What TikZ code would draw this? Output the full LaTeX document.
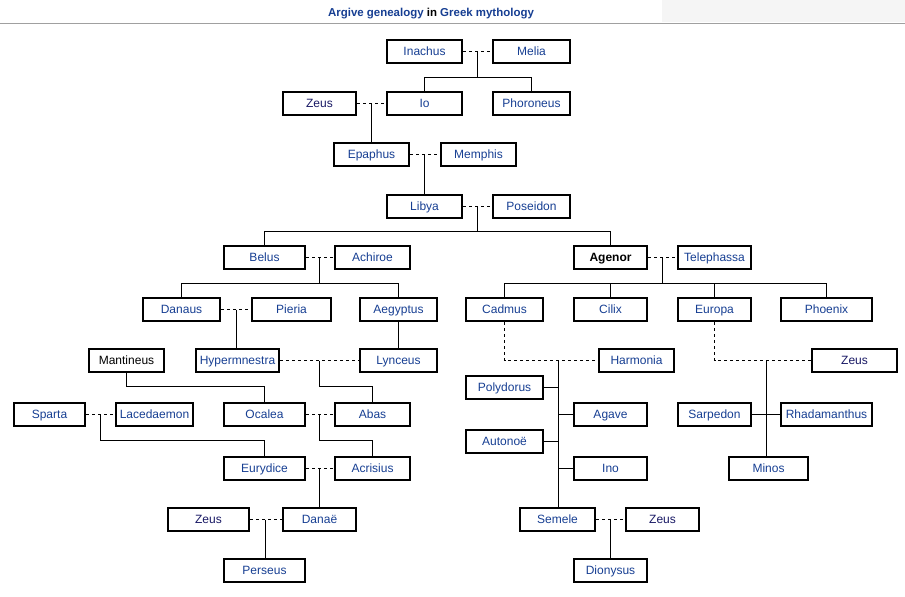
\documentclass[tikz,border=0pt]{standalone}
\usepackage{fontspec}
\setmainfont{Liberation Sans}
\definecolor{linkblue}{RGB}{22,62,146}
\definecolor{visitblue}{RGB}{24,24,100}
\definecolor{headgray}{RGB}{245,245,245}
\definecolor{rulegray}{RGB}{160,160,160}
\begin{document}
\begin{tikzpicture}[x=0.75pt,y=-0.75pt]
		\tikzstyle{person}=[draw,line width=1.5pt,minimum height=17.25pt,inner sep=0pt,text height=7.6pt,text depth=1.2pt,font=\fontsize{9}{10}\selectfont,text=linkblue]
		\tikzstyle{kin}=[line width=0.75pt]
		\tikzstyle{wed}=[line width=0.75pt,dash pattern=on 2.25pt off 2.25pt]

		\useasboundingbox (0,0) rectangle (905,596);
		\fill[headgray] (662,0) rectangle (905,22);
		\draw[rulegray,line width=1.2pt] (0,23.3) -- (905,23.3);
		\node[font=\bfseries\fontsize{8.6}{10}\selectfont] (title) at (431,13.5) {\textcolor{linkblue}{Argive genealogy} in \textcolor{linkblue}{Greek mythology}};

		\foreach \n / \x / \y / \w / \t in {inachus/424.5/51.5/77/Inachus, melia/531.5/51.5/79/Melia, io/424.5/103.5/77/Io, phoroneus/531.5/103.5/79/Phoroneus, epaphus/371.5/154.5/77/Epaphus, memphis/478.5/154.5/77/Memphis, libya/424.5/206.5/77/Libya, poseidon/531.5/206.5/79/Poseidon, belus/264.5/257.5/83/Belus, achiroe/372.5/257.5/77/Achiroe, telephassa/714.5/257.5/75/Telephassa, danaus/181.5/309.5/79/Danaus, pieria/291.5/309.5/81/Pieria, aegyptus/398.5/309.5/79/Aegyptus, cadmus/504.5/309.5/79/Cadmus, cilix/610.5/309.5/75/Cilix, europa/714.5/309.5/75/Europa, phoenix/826.5/309.5/93/Phoenix, hypermnestra/237.5/360.5/85/Hypermnestra, lynceus/398.5/360.5/79/Lynceus, harmonia/636.5/360.5/77/Harmonia, polydorus/504.5/387.5/79/Polydorus, sparta/49.5/414.5/73/Sparta, lacedaemon/154.5/414.5/79/Lacedaemon, ocalea/264.5/414.5/83/Ocalea, abas/372.5/414.5/77/Abas, agave/610.5/414.5/75/Agave, sarpedon/714.5/414.5/75/Sarpedon, rhadamanthus/826.5/414.5/93/Rhadamanthus, autonoe/504.5/441.5/79/Autonoë, eurydice/264.5/468.5/83/Eurydice, acrisius/372.5/468.5/77/Acrisius, ino/610.5/468.5/75/Ino, minos/768.5/468.5/81/Minos, danae/319.5/519.5/75/Danaë, semele/557.5/519.5/77/Semele, perseus/264.5/570.5/83/Perseus, dionysus/610.5/570.5/75/Dionysus} { \node[person,minimum width=\w*0.75pt-1.5pt] (\n) at (\x,\y) {\t};}

		\foreach \n / \x / \y / \w in {zeusa/319.5/103.5/75, zeusb/854.5/360.5/87, zeusc/208.5/519.5/83, zeusd/662.5/519.5/75} { \node[person,text=visitblue,minimum width=\w*0.75pt-1.5pt] (\n) at (\x,\y) {Zeus};}

		\node[person,text=black,minimum width=77*0.75pt-1.5pt] (mantineus) at (126.5,360.5) {Mantineus};
		\node[person,text=black,font=\bfseries\fontsize{9}{10}\selectfont,minimum width=75*0.75pt-1.5pt] (agenor) at (610.5,257.5) {Agenor};

		% couples, with the x where their children hang
		\foreach \a / \b / \u / \ux in {inachus/melia/u1/477.5, zeusa/io/u2/371.5, epaphus/memphis/u3/424.5, libya/poseidon/u4/477.5, belus/achiroe/u5/319.5, agenor/telephassa/u6/662.5, danaus/pieria/u7/236.5, hypermnestra/lynceus/u8/319.5, sparta/lacedaemon/u9/100.5, ocalea/abas/u10/319.5, eurydice/acrisius/u11/319.5, zeusc/danae/u12/265.5, semele/zeusd/u13/610.5} { \draw[wed] (\a) -- (\b); \coordinate (\u) at (\ux,0 |- \a);}

		\draw[kin] (u1) -- ++(0,26) coordinate (b1);
		\draw[kin] (io.north) |- (b1) -| (phoroneus.north);
		\draw[kin] (u2) -- (u2 |- epaphus.north);
		\draw[kin] (u3) -- (u3 |- libya.north);
		\draw[kin] (u4) -- ++(0,25) coordinate (b4);
		\draw[kin] (belus.north) |- (b4) -| (agenor.north);

		\draw[kin] (u5) -- ++(0,26) coordinate (b5);
		\draw[kin] (danaus.north) |- (b5) -| (aegyptus.north);
		\draw[kin] (u7) -- (u7 |- hypermnestra.north);
		\draw[kin] (aegyptus) -- (lynceus);
		\draw[kin] (u8) -- ++(0,26) coordinate (b8);
		\draw[kin] (b8) -| (abas.north);
		\draw[kin] (mantineus.south) -- (mantineus.south |- b8) -| (ocalea.north);
		\draw[kin] (u9) -- ++(0,26) -| (eurydice.north);
		\draw[kin] (u10) -- ++(0,26) -| (acrisius.north);
		\draw[kin] (u11) -- (u11 |- danae.north);
		\draw[kin] (u12) -- (u12 |- perseus.north);

		\draw[kin] (u6) -- ++(0,26) coordinate (b6);
		\draw[kin] (cadmus.north) |- (b6) -| (phoenix.north);
		\foreach \x in {cilix,europa} { \draw[kin] (\x.north) -- (\x.north |- b6);}

		\draw[wed] (cadmus.south) |- (harmonia.west);
		\coordinate (u14) at (558.5,0 |- harmonia.west);
		\draw[kin] (u14) -- (u14 |- semele.north);
		\foreach \x in {polydorus,autonoe} { \draw[kin] (\x.east) -- (\x.east -| u14);}
		\foreach \x in {agave,ino} { \draw[kin] (\x.west) -- (\x.west -| u14);}
		\draw[kin] (u13) -- (u13 |- dionysus.north);

		\draw[wed] (europa.south) |- (zeusb.west);
		\coordinate (u15) at (766.5,0 |- zeusb.west);
		\draw[kin] (u15) -- (u15 |- minos.north);
		\draw[kin] (sarpedon) -- (rhadamanthus);

	\end{tikzpicture}
\end{document}
